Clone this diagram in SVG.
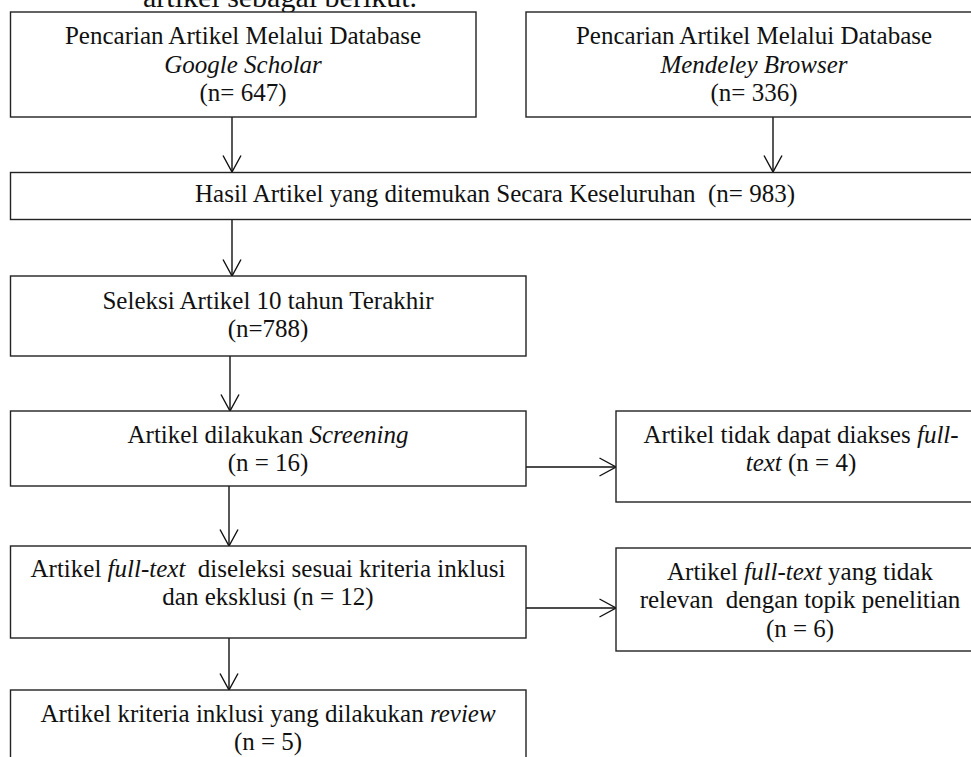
<svg xmlns="http://www.w3.org/2000/svg" width="971" height="757" viewBox="0 0 971 757">
<defs>
<style>
.box{fill:#ffffff;stroke:#222222;stroke-width:1.4}
.t{font-family:"Liberation Serif","Times New Roman",serif;font-size:25px;fill:#111111;text-anchor:middle}
.i{font-style:italic}
.ln{fill:none;stroke:#111111;stroke-width:1.4}
</style>
<marker id="ah" viewBox="0 0 18 20" refX="17" refY="10" markerWidth="18" markerHeight="20" markerUnits="userSpaceOnUse" orient="auto">
<path d="M0.5,1 L17,10 L0.5,19" fill="none" stroke="#111111" stroke-width="1.4"/>
</marker>
</defs>
<rect width="971" height="757" fill="#ffffff"/>
<text x="143" y="7" font-family="Liberation Serif, Times New Roman, serif" font-size="30" fill="#111111">artikel sebagai berikut.</text>
<g id="connectors">
<line class="ln" x1="232" y1="117" x2="232" y2="172" marker-end="url(#ah)"/>
<line class="ln" x1="773" y1="117" x2="773" y2="172" marker-end="url(#ah)"/>
<line class="ln" x1="232" y1="220" x2="232" y2="276" marker-end="url(#ah)"/>
<line class="ln" x1="230" y1="356" x2="230" y2="411" marker-end="url(#ah)"/>
<line class="ln" x1="229" y1="486" x2="229" y2="546" marker-end="url(#ah)"/>
<line class="ln" x1="229" y1="638" x2="229" y2="690" marker-end="url(#ah)"/>
<line class="ln" x1="526" y1="467" x2="616" y2="467" marker-end="url(#ah)"/>
<line class="ln" x1="526" y1="608" x2="616" y2="608" marker-end="url(#ah)"/>
</g>
<g id="n1">
<rect class="box" x="10.5" y="12" width="465.5" height="105"/>
<text class="t" x="243" y="44">Pencarian Artikel Melalui Database</text>
<text class="t i" x="243" y="72.5">Google Scholar</text>
<text class="t" x="243" y="101">(n= 647)</text>
</g>
<g id="n2">
<rect class="box" x="526" y="12" width="460" height="105"/>
<text class="t" x="754" y="44">Pencarian Artikel Melalui Database</text>
<text class="t i" x="754" y="72.5">Mendeley Browser</text>
<text class="t" x="754" y="101">(n= 336)</text>
</g>
<g id="n3">
<rect class="box" x="10.5" y="172.5" width="975.5" height="47"/>
<text class="t" x="195" y="202" style="text-anchor:start" xml:space="preserve">Hasil Artikel yang ditemukan Secara Keseluruhan  (n= 983)</text>
</g>
<g id="n4">
<rect class="box" x="10.5" y="276" width="515.5" height="80"/>
<text class="t" x="268" y="309">Seleksi Artikel 10 tahun Terakhir</text>
<text class="t" x="268" y="337">(n=788)</text>
</g>
<g id="n5">
<rect class="box" x="10.5" y="411" width="515.5" height="75"/>
<text class="t" x="268" y="443">Artikel dilakukan <tspan class="i">Screening</tspan></text>
<text class="t" x="268" y="471">(n = 16)</text>
</g>
<g id="n6">
<rect class="box" x="616" y="411" width="370" height="91"/>
<text class="t" x="801" y="443">Artikel tidak dapat diakses <tspan class="i">full</tspan>-</text>
<text class="t" x="801" y="471"><tspan class="i">text</tspan> (n = 4)</text>
</g>
<g id="n7">
<rect class="box" x="10.5" y="546" width="515.5" height="92"/>
<text class="t" x="268" y="577" xml:space="preserve">Artikel <tspan class="i">full-text</tspan>  diseleksi sesuai kriteria inklusi</text>
<text class="t" x="268" y="605">dan eksklusi (n = 12)</text>
</g>
<g id="n8">
<rect class="box" x="616" y="548" width="370" height="103"/>
<text class="t" x="800" y="580">Artikel <tspan class="i">full-text</tspan> yang tidak</text>
<text class="t" x="800" y="608" xml:space="preserve">relevan  dengan topik penelitian</text>
<text class="t" x="800" y="637">(n = 6)</text>
</g>
<g id="n9">
<rect class="box" x="10.5" y="690" width="515.5" height="90"/>
<text class="t" x="268" y="722">Artikel kriteria inklusi yang dilakukan <tspan class="i">review</tspan></text>
<text class="t" x="268" y="750">(n = 5)</text>
</g>
</svg>
